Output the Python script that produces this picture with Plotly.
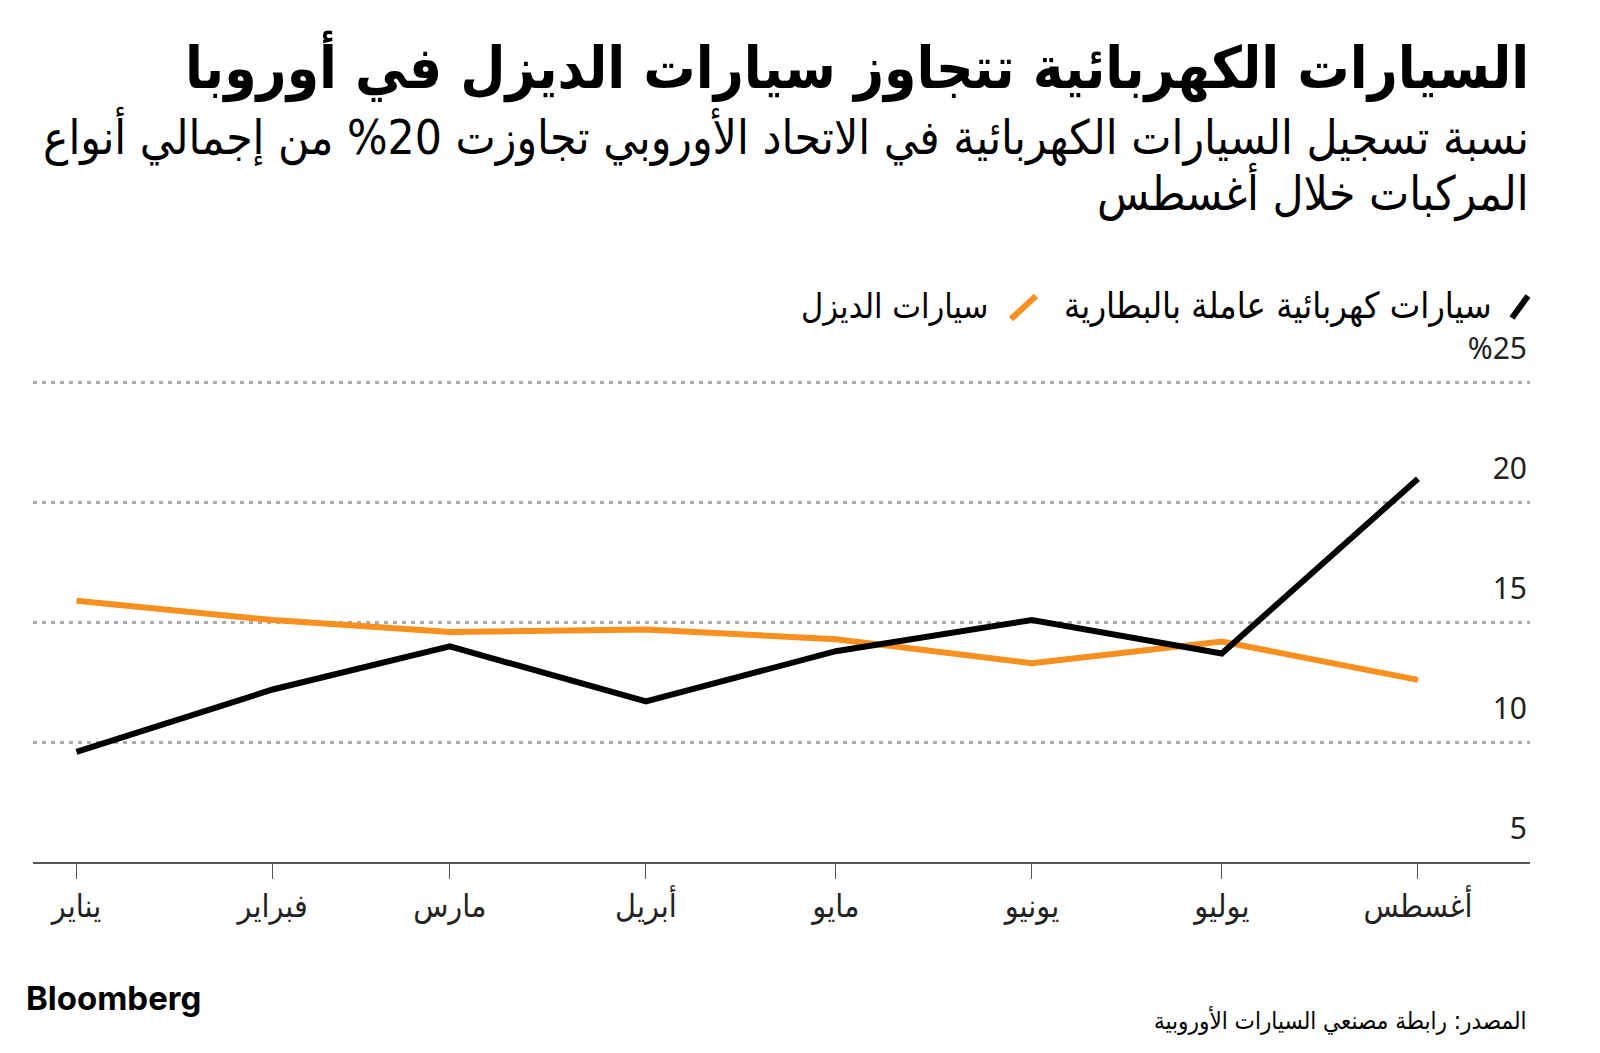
import plotly.graph_objects as go

months = ["2023-01-01", "2023-02-01", "2023-03-01", "2023-04-01",
          "2023-05-01", "2023-06-01", "2023-07-01", "2023-08-01"]
month_labels = ["يناير", "فبراير", "مارس", "أبريل", "مايو", "يونيو", "يوليو", "أغسطس"]
bev_share = [9.6, 12.2, 14.0, 11.7, 13.8, 15.1, 13.7, 21.0]
diesel_share = [15.9, 15.1, 14.6, 14.7, 14.3, 13.3, 14.2, 12.6]
y_ticks = [5, 10, 15, 20, 25]
y_tick_labels = ["5", "10", "15", "20", "%25"]

name_bev = "سيارات كهربائية عاملة بالبطارية"
name_diesel = "سيارات الديزل"
title = "السيارات الكهربائية تتجاوز سيارات الديزل في أوروبا"
subtitle1 = "نسبة تسجيل السيارات الكهربائية في الاتحاد الأوروبي تجاوزت 20% من إجمالي أنواع"
subtitle2 = "المركبات خلال أغسطس"
source = "المصدر: رابطة مصنعي السيارات الأوروبية"

BLACK = "#000000"
ORANGE = "#F7901E"
AR_FONT = "DejaVu Sans Condensed, DejaVu Sans, sans-serif"

OFF = 8  # page body margin
W, H = 1600 - OFF, 1053 - OFF
# plot area in page pixels (y=5 at 862, y=25 at 383 -> 23.95 px/unit; top at y=28.5)
PL, PR, PT, PB = 33, 1530, 299, 862
Y_RANGE = [5, 28.5]


def px(x):
    return (x - PL) / (PR - PL)


def py(y):
    return (PB - y) / (PB - PT)


fig = go.Figure()
fig.add_trace(go.Scatter(x=months, y=diesel_share, mode="lines", name=name_diesel,
                         line=dict(color=ORANGE, width=6), showlegend=False))
fig.add_trace(go.Scatter(x=months, y=bev_share, mode="lines", name=name_bev,
                         line=dict(color=BLACK, width=6), showlegend=False))

annotations = [
    dict(text="<b>" + title + "</b>", x=px(1531), y=py(66), xanchor="right", yanchor="middle",
         font=dict(family=AR_FONT, size=58, color="#000")),
    dict(text=subtitle1, x=px(1531), y=py(136), xanchor="right", yanchor="middle",
         font=dict(family=AR_FONT, size=47.5, color="#000")),
    dict(text=subtitle2, x=px(1531), y=py(192), xanchor="right", yanchor="middle",
         font=dict(family=AR_FONT, size=47.5, color="#000")),
    dict(text=name_bev, x=px(1494), y=py(306), xanchor="right", yanchor="middle",
         font=dict(family=AR_FONT, size=36, color="#000")),
    dict(text=name_diesel, x=px(990), y=py(306), xanchor="right", yanchor="middle",
         font=dict(family=AR_FONT, size=34, color="#000")),
    dict(text="<b>Bloomberg</b>", x=px(24), y=py(998), xanchor="left", yanchor="middle",
         font=dict(family="Inter, Roboto, sans-serif", size=33, color="#000")),
    dict(text=source, x=px(1529), y=py(1020), xanchor="right", yanchor="middle",
         font=dict(family=AR_FONT, size=24, color="#000")),
]
for a in annotations:
    a.update(xref="paper", yref="paper", showarrow=False)

shapes = [
    dict(type="line", xref="paper", yref="paper", x0=px(1512), x1=px(1528), y0=py(318), y1=py(296),
         line=dict(color=BLACK, width=6)),
    dict(type="line", xref="paper", yref="paper", x0=px(1011), x1=px(1036), y0=py(319), y1=py(296),
         line=dict(color=ORANGE, width=6)),
]

fig.update_layout(
    width=W, height=H,
    margin=dict(l=PL - OFF, r=W - (PR - OFF), t=PT - OFF, b=H - (PB - OFF), pad=0),
    paper_bgcolor="white", plot_bgcolor="white",
    annotations=annotations, shapes=shapes,
    showlegend=False,
    xaxis=dict(
        type="date",
        range=["2022-12-25 03:00", "2023-08-18 17:00"],
        tickvals=months, ticktext=month_labels,
        showgrid=False, zeroline=False,
        showline=True, linecolor="#555555", linewidth=2,
        ticks="outside", ticklen=15, tickwidth=1, tickcolor="#555555",
        tickfont=dict(family=AR_FONT, size=32, color="#222"),
        fixedrange=True,
    ),
    yaxis=dict(
        range=Y_RANGE, side="right",
        tickvals=y_ticks, ticktext=y_tick_labels,
        ticklabelposition="inside", ticklabelshift=-34,
        showgrid=True, gridcolor="#AAAAAA", gridwidth=2.5, griddash="4px,5px",
        zeroline=False, showline=False, ticks="",
        tickfont=dict(family="Noto Sans, DejaVu Sans, sans-serif", size=30, color="#222"),
        fixedrange=True,
    ),
)

fig.write_html("out.html")
